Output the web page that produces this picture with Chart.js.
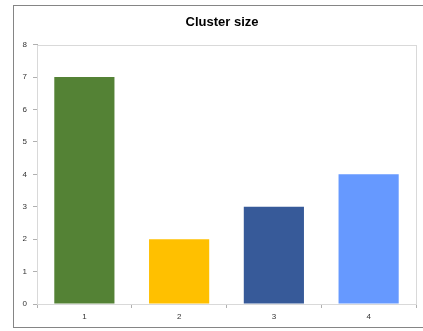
<!DOCTYPE html>
<html>
<head>
<meta charset="utf-8">
<script src="https://cdn.jsdelivr.net/npm/chart.js@4/dist/chart.umd.min.js"></script>
<style>
  html, body { margin: 0; padding: 0; background: #fff; }
  #wrap { position: relative; width: 423px; height: 331px; overflow: hidden; }
  #frame { position: absolute; left: 13px; top: 5px; width: 420px; height: 323px;
           border: 1px solid #858585; border-right: none; box-sizing: border-box; }
  canvas { position: absolute; left: 0; top: 0; }
</style>
</head>
<body>
<div id="wrap">
  <div id="frame"></div>
  <canvas id="c" width="423" height="331"></canvas>
</div>
<script>
const categories = ['1', '2', '3', '4'];
const clusterSizes = [7, 2, 3, 4];
const barColors = ['#548235', '#FFC000', '#375A99', '#6699FF'];
const yTicks = [0, 1, 2, 3, 4, 5, 6, 7, 8];

// light grey box around the plot area
const plotBox = {
  id: 'plotBox',
  beforeDatasetsDraw(chart) {
    const a = chart.chartArea, ctx = chart.ctx;
    ctx.save();
    ctx.strokeStyle = '#d9d9d9';
    ctx.lineWidth = 1;
    ctx.strokeRect(Math.round(a.left) + 0.5, Math.round(a.top) + 0.5,
                   Math.round(a.right - a.left), Math.round(a.bottom - a.top));
    ctx.restore();
  }
};

// centre the title over the frame rather than the padded layout box
const titleShift = {
  id: 'titleShift',
  afterLayout(chart) {
    if (chart.titleBlock) {
      chart.titleBlock.left = 28;
      chart.titleBlock.right = 416;
    }
  }
};

new Chart(document.getElementById('c'), {
  type: 'bar',
  data: {
    labels: categories,
    datasets: [{
      data: clusterSizes,
      backgroundColor: barColors,
      borderWidth: 0,
      categoryPercentage: 1,
      barPercentage: 0.635
    }]
  },
  options: {
    responsive: false,
    animation: false,
    devicePixelRatio: 1,
    layout: { padding: { left: 13, right: 7, top: 0, bottom: 7 } },
    plugins: {
      legend: { display: false },
      tooltip: { enabled: false },
      title: {
        display: true,
        text: 'Cluster size',
        color: '#000',
        font: { family: 'Liberation Sans, Arial, sans-serif', size: 13, weight: 'bold' },
        padding: { top: 15, bottom: 14 }
      }
    },
    scales: {
      y: {
        min: 0, max: 8,
        afterBuildTicks(scale) { scale.ticks = yTicks.map(v => ({ value: v })); },
        grid: { drawOnChartArea: false, tickLength: 4, color: '#b0b0b0' },
        border: { color: '#b0b0b0' },
        ticks: {
          color: '#333',
          font: { family: 'Liberation Sans, Arial, sans-serif', size: 8 },
          padding: 6
        },
        afterFit(scale) { scale.width = 24; }
      },
      x: {
        grid: { drawOnChartArea: false, tickLength: 4, color: '#b0b0b0', offset: true },
        border: { color: '#b0b0b0' },
        ticks: {
          color: '#333',
          font: { family: 'Liberation Sans, Arial, sans-serif', size: 8 },
          padding: 4
        },
        afterFit(scale) { scale.height = 20; }
      }
    }
  },
  plugins: [plotBox, titleShift]
});
</script>
</body>
</html>
